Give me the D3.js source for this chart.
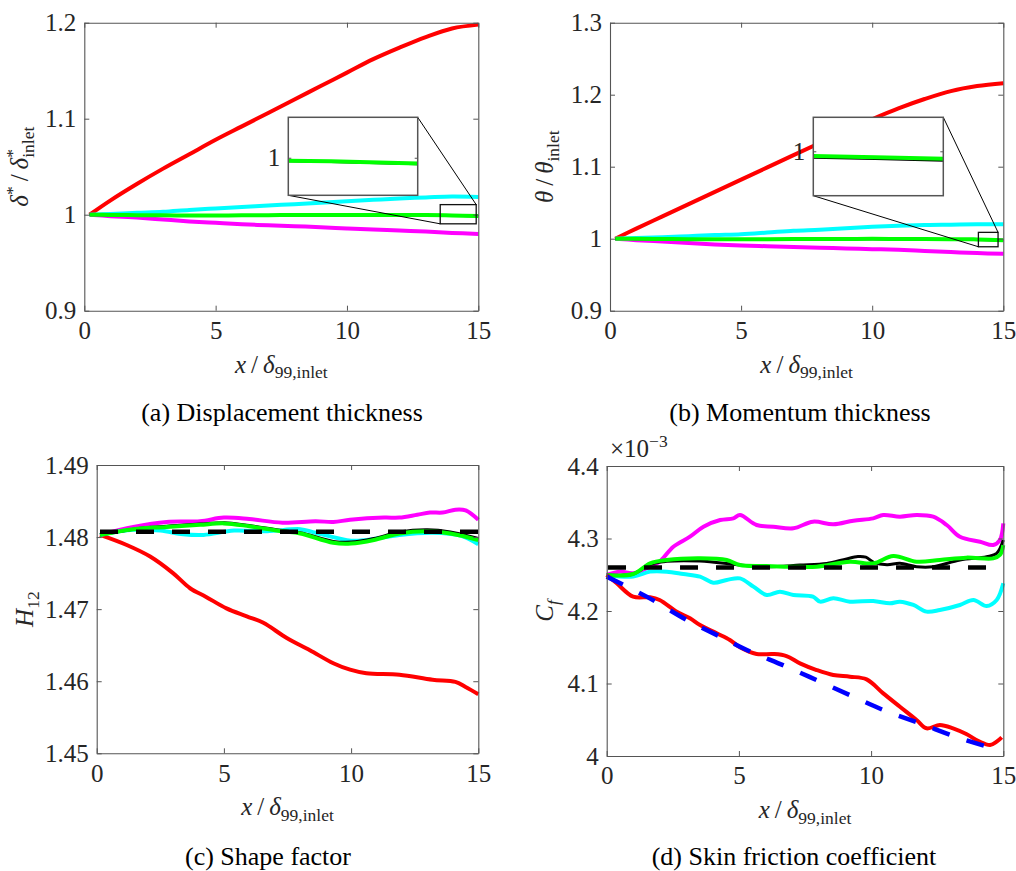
<!DOCTYPE html>
<html>
<head>
<meta charset="utf-8">
<script src="https://cdnjs.cloudflare.com/ajax/libs/d3/7.8.5/d3.min.js"></script>
<style>
  body { margin: 0; background: #fff; }
  svg { display: block; }
</style>
</head>
<body>
<svg id="fig" width="1016" height="871"></svg>
<script>
// ---------- shared axis data ----------
const xTicks = [0, 5, 10, 15];
const dispTicks = [0.9, 1, 1.1, 1.2];
const momTicks = [0.9, 1, 1.1, 1.2, 1.3];
const shapeTicks = [1.45, 1.46, 1.47, 1.48, 1.49];
const cfTicks = [4, 4.1, 4.2, 4.3, 4.4]; // in units of 1e-3

// streamwise stations for the integral thicknesses
const xGrid = [0.2, 1, 2, 3, 4, 5, 6, 7, 8, 9, 10, 11, 12, 13, 14, 15];

// ---------- (a) displacement thickness ----------
const dispRed     = [1.0, 1.015, 1.032, 1.048, 1.063, 1.078, 1.092, 1.106, 1.120, 1.134, 1.148, 1.162, 1.174, 1.185, 1.194, 1.198];
const dispCyan    = [1.0, 1.0008, 1.002, 1.003, 1.005, 1.0065, 1.008, 1.0095, 1.011, 1.0125, 1.014, 1.0155, 1.017, 1.018, 1.019, 1.0185];
const dispMagenta = [1.0, 0.9985, 0.997, 0.995, 0.993, 0.9915, 0.990, 0.989, 0.988, 0.987, 0.9857, 0.9845, 0.9835, 0.9825, 0.981, 0.980];
const dispGreen   = [1.0, 0.9998, 0.9995, 0.9993, 0.9992, 0.9992, 0.9993, 0.9995, 0.9997, 0.9998, 0.9998, 0.9998, 0.9998, 0.9996, 0.9992, 0.9986];
const dispBlack   = [1.0, 0.9997, 0.9994, 0.9992, 0.9991, 0.9991, 0.9992, 0.9994, 0.9996, 0.9997, 0.9997, 0.9997, 0.9997, 0.9995, 0.9991, 0.9985];

// ---------- (b) momentum thickness ----------
const momRed     = [1.0, 1.014, 1.031, 1.048, 1.065, 1.082, 1.099, 1.116, 1.133, 1.150, 1.166, 1.181, 1.194, 1.205, 1.212, 1.216];
const momCyan    = [1.0, 1.001, 1.002, 1.0035, 1.005, 1.0062, 1.0085, 1.011, 1.0125, 1.0145, 1.0165, 1.018, 1.019, 1.0195, 1.020, 1.020];
const momMagenta = [1.0, 0.998, 0.996, 0.994, 0.992, 0.9905, 0.9895, 0.9885, 0.9875, 0.9865, 0.9855, 0.9845, 0.983, 0.9815, 0.980, 0.979];
const momGreen   = [1.0, 0.9998, 0.9996, 0.9994, 0.9993, 0.9993, 0.9994, 0.9995, 0.9996, 0.9997, 0.9998, 0.9997, 0.9996, 0.9994, 0.999, 0.998];
const momBlack   = [1.0, 0.9997, 0.9994, 0.9991, 0.999, 0.999, 0.9991, 0.9992, 0.9993, 0.9994, 0.9995, 0.9994, 0.9992, 0.999, 0.9986, 0.9976];

// ---------- (c) shape factor, [x, H12] ----------
const shapeRed = [[0.13,1.4803],[1.18,1.4789],[2.1,1.4773],[3.0,1.4750],[3.67,1.4729],[4.3,1.4717],[5.1,1.4701],[5.9,1.4690],[6.55,1.4681],[7.47,1.4660],[8.38,1.4643],[9.3,1.4625],[9.96,1.4616],[10.6,1.4611],[11.9,1.4609],[13.2,1.4602],[14.1,1.4599],[14.5,1.4592],[15,1.4582]];
const shapeMagenta = [[0.13,1.4803],[1.44,1.4814],[2.75,1.4821],[4.06,1.4822],[5.0,1.4827],[6.0,1.4825],[7.3,1.4820],[8.6,1.4822],[9.3,1.4821],[9.96,1.4824],[11.3,1.4827],[11.9,1.4827],[12.6,1.4831],[13.1,1.4834],[13.6,1.4834],[14.1,1.4838],[14.5,1.4837],[15,1.4824]];
const shapeCyan = [[0.13,1.4803],[1.44,1.4810],[2.5,1.4809],[3.4,1.4804],[4.2,1.4803],[5.4,1.4809],[6.7,1.4808],[8.0,1.4811],[8.6,1.4806],[10.0,1.4795],[10.6,1.4796],[11.9,1.4803],[13.2,1.4806],[14.3,1.4802],[15,1.4790]];
const shapeBlack = [[0.13,1.4803],[1.44,1.4811],[2.75,1.4815],[4.06,1.4818],[5.0,1.4820],[6.0,1.4816],[7.3,1.4809],[8.0,1.4806],[9.3,1.4794],[10.0,1.4793],[10.9,1.4798],[11.9,1.4807],[13.0,1.4810],[13.9,1.4807],[15,1.4798]];
const shapeGreen = [[0.13,1.4803],[1.44,1.4811],[2.75,1.4814],[4.06,1.4817],[5.0,1.4819],[6.0,1.4815],[7.3,1.4808],[8.0,1.4805],[9.3,1.4792],[10.0,1.4791],[10.9,1.4796],[11.9,1.4805],[13.0,1.4808],[13.9,1.4805],[15,1.4796]];
const shapeRef = [[0.13,1.48075],[15,1.48075]];

// ---------- (d) skin friction, [x, Cf*1e3] ----------
const cfRed = [[0,4.2497],[0.38,4.2382],[1.0,4.2198],[1.64,4.2189],[2.0,4.2152],[2.65,4.1991],[3.15,4.19],[3.53,4.1807],[4.16,4.1692],[4.66,4.16],[5.04,4.1499],[5.67,4.1407],[6.3,4.1407],[6.8,4.1379],[7.31,4.1278],[7.94,4.1186],[8.57,4.1117],[9.2,4.1094],[9.83,4.1057],[10.46,4.0864],[11.09,4.068],[11.72,4.0497],[12.1,4.0382],[12.6,4.0428],[13.1,4.0382],[13.6,4.0303],[14.1,4.0198],[14.5,4.0152],[14.75,4.0198],[14.94,4.0257]];
const cfMagenta = [[0,4.2497],[0.5,4.2543],[1.0,4.252],[1.64,4.2612],[2.0,4.268],[2.52,4.2887],[3.15,4.3025],[3.66,4.3163],[4.29,4.3255],[4.79,4.3278],[5.04,4.3324],[5.67,4.3186],[6.3,4.3163],[7.06,4.314],[7.8,4.3232],[8.57,4.3195],[9.33,4.3246],[10.08,4.3278],[10.46,4.3324],[11.09,4.3301],[11.72,4.3324],[12.35,4.3301],[12.86,4.3186],[13.36,4.3025],[14.12,4.2956],[14.62,4.291],[14.87,4.2979],[15,4.3209]];
const cfCyan = [[0,4.2497],[1.0,4.2474],[1.64,4.2543],[2.27,4.2543],[2.9,4.251],[3.53,4.2474],[4.03,4.2391],[4.54,4.2428],[5.04,4.245],[5.55,4.2336],[6.05,4.2221],[6.55,4.2267],[7.06,4.2221],[7.8,4.2198],[8.07,4.2129],[8.57,4.2175],[9.2,4.2129],[10.08,4.2138],[10.71,4.2106],[11.09,4.2129],[11.6,4.2083],[12.1,4.1991],[12.6,4.2014],[13.36,4.2083],[13.87,4.2152],[14.37,4.2069],[14.75,4.2152],[15,4.2382]];
const cfBlack = [[0,4.2497],[1.0,4.251],[1.64,4.2645],[2.27,4.2685],[3.53,4.2689],[5.04,4.2634],[6.05,4.2611],[7.31,4.2634],[8.32,4.2657],[9.0,4.2712],[9.5,4.2752],[9.8,4.2742],[10.1,4.2672],[10.6,4.2638],[11.09,4.2657],[11.72,4.2611],[12.35,4.2611],[13.36,4.2703],[14.37,4.2749],[14.75,4.2795],[15,4.2979]];
const cfGreen = [[0,4.2497],[1.0,4.251],[1.64,4.2657],[2.27,4.2703],[3.53,4.2726],[4.54,4.2703],[5.04,4.2634],[6.05,4.2621],[7.06,4.2611],[7.94,4.2611],[9.2,4.268],[10.08,4.2657],[10.84,4.2759],[11.72,4.268],[12.6,4.2703],[13.6,4.2736],[14.62,4.2726],[14.87,4.2772],[15,4.291]];
const cfRef = [[0.05,4.26],[15,4.26]];
const cfCorrelation = [[0,4.2474],[1.51,4.2198],[3.03,4.1876],[4.29,4.1646],[5.3,4.1462],[6.8,4.1232],[8.07,4.1025],[9.33,4.0818],[10.46,4.0634],[11.85,4.045],[13.36,4.0244],[14.75,4.0092]];

// ---------- styling ----------
const COL = { red: '#ff0000', cyan: '#00ffff', green: '#00ff00', magenta: '#ff00ff', black: '#000000', blue: '#0000ff' };
const FONT = '"Liberation Serif", "Times New Roman", Tinos, serif';
const TICK_FS = 25, SUB_FS = 17.5, CAP_FS = 26;
const AXIS_COL = '#555555', TEXT_COL = '#262626';
const THIN = '\u2009';

const svg = d3.select('#fig');
const pairs = arr => xGrid.map((xv, i) => [xv, arr[i]]);

// every text node gets the serif face inline
function serif(sel, size) {
  sel.style('font-family', FONT);
  if (size) sel.style('font-size', size + 'px');
  return sel;
}

// Build a run of math-style text from parts: {t, it, sub, sup, back}
function mathText(text, parts) {
  let shift = 0;
  parts.forEach(p => {
    const ts = text.append('tspan').text(p.t);
    let target = 0;
    if (p.sub) target = 5.5;
    if (p.sup) target = -10;
    const dy = target - shift;
    if (dy !== 0) ts.attr('dy', dy);
    shift = target;
    serif(ts, (p.sub || p.sup) ? SUB_FS : TICK_FS);
    ts.style('font-style', p.it ? 'italic' : 'normal');
    if (p.back) ts.attr('dx', -p.back);
  });
}

function measure(str, size) {
  const t = serif(svg.append('text'), size).text(str);
  const w = t.node().getComputedTextLength();
  t.remove();
  return w;
}

function drawPanel(cfg) {
  const g = svg.append('g');
  const x = d3.scaleLinear().domain([0, 15]).range([cfg.left, cfg.right]);
  const y = d3.scaleLinear().domain(cfg.yDomain).range([cfg.bottom, cfg.top]);

  // data curves
  cfg.series.forEach(s => {
    const line = d3.line().x(d => x(d[0])).y(d => y(d[1])).curve(d3.curveCatmullRom.alpha(0.5));
    g.append('path').datum(s.data)
      .attr('d', line)
      .attr('fill', 'none')
      .attr('stroke', s.color)
      .attr('stroke-width', s.width || 4)
      .attr('stroke-dasharray', s.dash || null)
      .attr('stroke-linejoin', 'round');
  });

  // axes box with inward ticks on all four sides
  const tk = 5;
  const styleAxis = sel => {
    sel.select('.domain').attr('stroke', AXIS_COL).attr('stroke-width', 1.1);
    sel.selectAll('.tick line').attr('stroke', AXIS_COL).attr('stroke-width', 1);
    serif(sel.selectAll('.tick text'), TICK_FS).attr('fill', TEXT_COL);
  };
  g.append('g').attr('transform', `translate(0,${cfg.bottom})`)
    .call(d3.axisBottom(x).tickValues(xTicks).tickSizeInner(-tk).tickSizeOuter(0).tickPadding(10.5).tickFormat(d => String(d)))
    .call(styleAxis);
  g.append('g').attr('transform', `translate(0,${cfg.top})`)
    .call(d3.axisTop(x).tickValues(xTicks).tickSizeInner(-tk).tickSizeOuter(0).tickFormat(''))
    .call(styleAxis);
  g.append('g').attr('transform', `translate(${cfg.left},0)`)
    .call(d3.axisLeft(y).tickValues(cfg.yTicks).tickSizeInner(-tk).tickSizeOuter(0).tickPadding(8).tickFormat(d => String(d)))
    .call(styleAxis);
  g.append('g').attr('transform', `translate(${cfg.right},0)`)
    .call(d3.axisRight(y).tickValues(cfg.yTicks).tickSizeInner(-tk).tickSizeOuter(0).tickFormat(''))
    .call(styleAxis);

  // x label
  const xl = serif(g.append('text'), TICK_FS)
    .attr('x', (cfg.left + cfg.right) / 2).attr('y', cfg.bottom + 62)
    .attr('text-anchor', 'middle').attr('fill', TEXT_COL);
  mathText(xl, [{ t: 'x', it: true }, { t: THIN + '/' + THIN }, { t: 'δ', it: true }, { t: '99,inlet', sub: true }]);

  // y label (rotated)
  const yl = serif(g.append('text'), TICK_FS)
    .attr('transform', `translate(${cfg.yLabelX},${(cfg.top + cfg.bottom) / 2}) rotate(-90)`)
    .attr('text-anchor', 'middle').attr('fill', TEXT_COL);
  mathText(yl, cfg.yLabel);

  // caption
  serif(svg.append('text'), CAP_FS)
    .attr('x', cfg.capX).attr('y', cfg.capY)
    .attr('text-anchor', 'middle').attr('fill', '#000')
    .text(cfg.caption);

  // zoomed inset
  if (cfg.inset) {
    const ins = cfg.inset;
    const ix = d3.scaleLinear().domain(ins.xDomain).range([ins.left, ins.right]);
    const iy = d3.scaleLinear().domain(ins.yDomain).range([ins.bottom, ins.top]);
    const clipId = 'clip-' + cfg.id;
    svg.append('clipPath').attr('id', clipId).append('rect')
      .attr('x', ins.left).attr('y', ins.top).attr('width', ins.right - ins.left).attr('height', ins.bottom - ins.top);

    // source window in the main axes
    g.append('rect')
      .attr('x', x(ins.xDomain[0])).attr('y', y(ins.yDomain[1]))
      .attr('width', x(ins.xDomain[1]) - x(ins.xDomain[0]))
      .attr('height', y(ins.yDomain[0]) - y(ins.yDomain[1]))
      .attr('fill', 'none').attr('stroke', '#111').attr('stroke-width', 1.3);
    // connector lines
    g.append('line').attr('x1', ins.right).attr('y1', ins.top)
      .attr('x2', x(ins.xDomain[1])).attr('y2', y(ins.yDomain[1]))
      .attr('stroke', '#000').attr('stroke-width', 1);
    g.append('line').attr('x1', ins.left).attr('y1', ins.bottom)
      .attr('x2', x(ins.xDomain[0])).attr('y2', y(ins.yDomain[0]))
      .attr('stroke', '#000').attr('stroke-width', 1);

    const ig = g.append('g');
    ig.append('rect').attr('x', ins.left).attr('y', ins.top)
      .attr('width', ins.right - ins.left).attr('height', ins.bottom - ins.top).attr('fill', '#fff');
    const cg = ig.append('g').attr('clip-path', `url(#${clipId})`);
    cfg.series.forEach(s => {
      const line = d3.line().x(d => ix(d[0])).y(d => iy(d[1])).curve(d3.curveCatmullRom.alpha(0.5));
      cg.append('path').datum(s.data).attr('d', line)
        .attr('fill', 'none').attr('stroke', s.color).attr('stroke-width', s.width || 4);
    });
    ig.append('rect').attr('x', ins.left).attr('y', ins.top)
      .attr('width', ins.right - ins.left).attr('height', ins.bottom - ins.top)
      .attr('fill', 'none').attr('stroke', '#555').attr('stroke-width', 1.5);
    // single tick at 1
    [[ins.left, 3], [ins.right, -3]].forEach(([px, d]) => {
      ig.append('line').attr('x1', px).attr('x2', px + d).attr('y1', iy(1)).attr('y2', iy(1))
        .attr('stroke', '#555').attr('stroke-width', 1);
    });
    serif(ig.append('text'), TICK_FS).attr('x', ins.left - 8).attr('y', iy(1) + 8)
      .attr('text-anchor', 'end').attr('fill', TEXT_COL)
      .text('1');
  }
}

const starW = measure('*', SUB_FS);

// (a)
drawPanel({
  id: 'a', left: 84.3, right: 478.3, top: 22.7, bottom: 310.7,
  yDomain: [0.9, 1.2], yTicks: dispTicks, yLabelX: 28,
  yLabel: [{ t: 'δ', it: true }, { t: '*', sup: true }, { t: THIN + '/' + THIN }, { t: 'δ', it: true }, { t: '*', sup: true }, { t: 'inlet', sub: true, back: starW }],
  caption: '(a) Displacement thickness', capX: 282, capY: 421,
  series: [
    { data: pairs(dispRed), color: COL.red },
    { data: pairs(dispCyan), color: COL.cyan },
    { data: pairs(dispMagenta), color: COL.magenta },
    { data: pairs(dispBlack), color: COL.black, width: 2.5 },
    { data: pairs(dispGreen), color: COL.green }
  ],
  inset: { left: 288.3, right: 417.7, top: 117.3, bottom: 195.3, xDomain: [13.55, 14.92], yDomain: [0.9905, 1.0105] }
});

// (b)
drawPanel({
  id: 'b', left: 610, right: 1003.3, top: 22.7, bottom: 310.7,
  yDomain: [0.9, 1.3], yTicks: momTicks, yLabelX: 553,
  yLabel: [{ t: 'θ', it: true }, { t: THIN + '/' + THIN }, { t: 'θ', it: true }, { t: 'inlet', sub: true }],
  caption: '(b) Momentum thickness', capX: 800, capY: 421,
  series: [
    { data: pairs(momRed), color: COL.red },
    { data: pairs(momCyan), color: COL.cyan },
    { data: pairs(momMagenta), color: COL.magenta },
    { data: pairs(momBlack), color: COL.black, width: 2.5 },
    { data: pairs(momGreen), color: COL.green }
  ],
  inset: { left: 813.3, right: 943.3, top: 117.3, bottom: 195.7, xDomain: [14.05, 14.8], yDomain: [0.9888, 1.0088] }
});

// (c)
drawPanel({
  id: 'c', left: 96.7, right: 478.3, top: 465, bottom: 753.3,
  yDomain: [1.45, 1.49], yTicks: shapeTicks, yLabelX: 33,
  yLabel: [{ t: 'H', it: true }, { t: '12', sub: true }],
  caption: '(c) Shape factor', capX: 268, capY: 865,
  series: [
    { data: shapeRed, color: COL.red },
    { data: shapeMagenta, color: COL.magenta },
    { data: shapeCyan, color: COL.cyan },
    { data: shapeBlack, color: COL.black, width: 3 },
    { data: shapeGreen, color: COL.green },
    { data: shapeRef, color: COL.black, width: 4.5, dash: '18,18' }
  ]
});

// (d)
drawPanel({
  id: 'd', left: 606.7, right: 1003.3, top: 466, bottom: 756,
  yDomain: [4.0, 4.4], yTicks: cfTicks, yLabelX: 553,
  yLabel: [{ t: 'C', it: true }, { t: 'f', sub: true, it: true }],
  caption: '(d) Skin friction coefficient', capX: 794, capY: 865,
  series: [
    { data: cfMagenta, color: COL.magenta },
    { data: cfCyan, color: COL.cyan },
    { data: cfBlack, color: COL.black, width: 3 },
    { data: cfGreen, color: COL.green },
    { data: cfRed, color: COL.red },
    { data: cfRef, color: COL.black, width: 4.5, dash: '18,18' },
    { data: cfCorrelation, color: COL.blue, width: 4.5, dash: '18,18' }
  ]
});

// exponent multiplier for the Cf axis
const mult = serif(svg.append('text'), TICK_FS).attr('x', 610).attr('y', 456.5).attr('fill', TEXT_COL);
mathText(mult, [{ t: '×10' }, { t: '−3', sup: true }]);
</script>
</body>
</html>
